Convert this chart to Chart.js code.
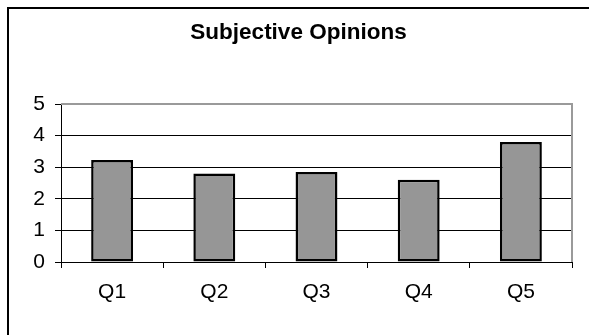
<!DOCTYPE html>
<html>
<head>
<meta charset="utf-8">
<script src="https://cdn.jsdelivr.net/npm/chart.js@4.4.1/dist/chart.umd.min.js"></script>
<style>
  html, body { margin: 0; padding: 0; background: #fff; overflow: hidden; }
  #wrap { position: relative; width: 589px; height: 335px; }
  #frame { position: absolute; left: 7px; top: 7px; width: 600px; height: 400px;
           border-left: 2px solid #000; border-top: 2px solid #000; pointer-events: none; }
  canvas { position: absolute; left: 0; top: 0; }
</style>
</head>
<body>
<div id="wrap">
  <canvas id="c" width="589" height="335"></canvas>
  <div id="frame"></div>
</div>
<script>
const title = "Subjective Opinions";
const categories = ["Q1", "Q2", "Q3", "Q4", "Q5"];
const scores = [3.23, 2.80, 2.85, 2.60, 3.80];
const yTicks = [0, 1, 2, 3, 4, 5];

const FONT = "'Liberation Sans', Arial, sans-serif";

const plotBorder = {
  id: 'plotBorder',
  beforeDatasetsDraw(chart) {
    const { ctx, chartArea: a } = chart;
    ctx.save();
    ctx.strokeStyle = '#9a9a9a';
    ctx.lineWidth = 2;
    ctx.beginPath();
    ctx.moveTo(a.left, a.top);
    ctx.lineTo(a.right, a.top);
    ctx.lineTo(a.right, a.bottom);
    ctx.stroke();
    ctx.restore();
  }
};

new Chart(document.getElementById('c'), {
  type: 'bar',
  data: {
    labels: categories,
    datasets: [{
      data: scores,
      backgroundColor: '#969696',
      borderColor: '#000',
      borderWidth: 2.5,
      borderSkipped: false,
      categoryPercentage: 1.0,
      barPercentage: 0.41
    }]
  },
  plugins: [plotBorder],
  options: {
    responsive: false,
    animation: false,
    events: [],
    layout: { padding: { left: 8, right: 0, top: 0, bottom: 0 } },
    plugins: {
      legend: { display: false },
      tooltip: { enabled: false },
      title: {
        display: true,
        text: title,
        color: '#000',
        font: { family: FONT, size: 22.5, weight: 'bold', lineHeight: 1.2 },
        padding: { top: 19, bottom: 58 }
      }
    },
    scales: {
      x: {
        afterFit(s) { s.height = 73; },
        grid: { display: true, drawOnChartArea: false, drawTicks: true, tickLength: 6,
                color: '#000', offset: true, lineWidth: 1 },
        border: { display: true, color: '#000', width: 1 },
        ticks: { color: '#000', padding: 12, font: { family: FONT, size: 21 } }
      },
      y: {
        min: 0,
        max: 5,
        afterFit(s) { s.width = 53; },
        afterBuildTicks(s) { s.ticks = yTicks.map(v => ({ value: v })); },
        grid: {
          color: (c) => c.tick && c.tick.value === 5 ? '#9a9a9a' : '#000',
          tickColor: '#000',
          tickLength: 6,
          lineWidth: 1
        },
        border: { display: true, color: '#000', width: 1 },
        ticks: { color: '#000', padding: 10, font: { family: FONT, size: 21 } }
      },
      yRight: {
        position: 'right',
        min: 0,
        max: 5,
        afterFit(s) { s.width = 17; },
        grid: { display: false },
        border: { display: false },
        ticks: { display: false }
      }
    }
  }
});
</script>
</body>
</html>
